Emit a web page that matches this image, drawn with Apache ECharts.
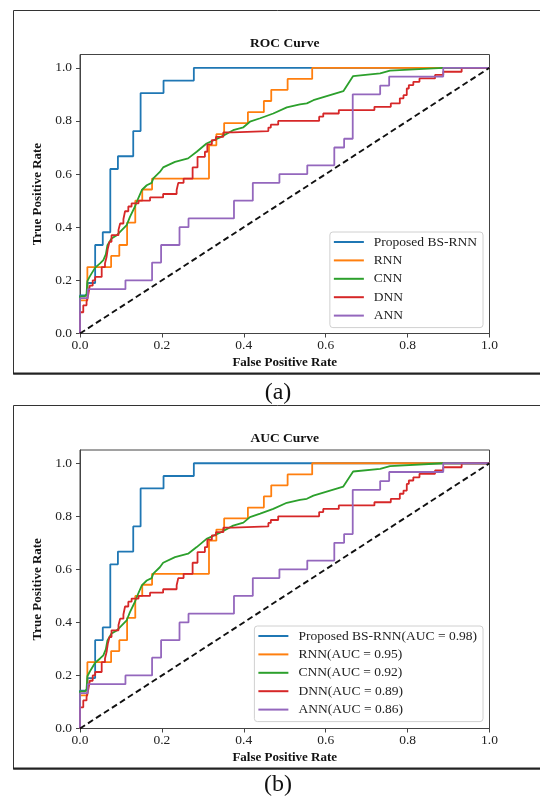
<!DOCTYPE html>
<html>
<head>
<meta charset="utf-8">
<script src="https://cdn.jsdelivr.net/npm/echarts@6/dist/echarts.min.js"></script>
<style>
html,body{margin:0;padding:0;background:#fff;}
#chart{width:540px;height:798px;}
</style>
</head>
<body>
<div id="chart"></div>
<script>
// ---- data ----
const modelNames = ['Proposed BS-RNN', 'RNN', 'CNN', 'DNN', 'ANN'];
const aucValues = [0.98, 0.95, 0.92, 0.89, 0.86];
const axisTicks = [0, 0.2, 0.4, 0.6, 0.8, 1.0];
const panelTitles = ['ROC Curve', 'AUC Curve'];
const panelCaptions = ['(a)', '(b)'];

const bsrnnRoc = [[0,0],[0,0.143],[0.0185,0.19],[0.037,0.333],[0.0556,0.381],[0.074,0.619],[0.0926,0.667],[0.13,0.762],[0.148,0.905],[0.204,0.952],[0.278,1],[1,1]];
const rnnRoc = [[0,0],[0,0.125],[0.018,0.25],[0.076,0.292],[0.096,0.333],[0.115,0.417],[0.135,0.5],[0.152,0.542],[0.176,0.583],[0.315,0.708],[0.333,0.75],[0.352,0.792],[0.41,0.833],[0.449,0.875],[0.467,0.917],[0.507,0.958],[0.567,1],[1,1]];
const cnnRoc = [[0,0],[0,0.14],[0.012,0.14],[0.016,0.148],[0.018,0.197],[0.024,0.215],[0.037,0.248],[0.049,0.264],[0.057,0.276],[0.063,0.298],[0.067,0.332],[0.077,0.358],[0.09,0.37],[0.102,0.389],[0.114,0.408],[0.122,0.439],[0.134,0.477],[0.142,0.508],[0.151,0.54],[0.163,0.558],[0.175,0.567],[0.179,0.584],[0.195,0.608],[0.203,0.625],[0.232,0.646],[0.264,0.659],[0.285,0.684],[0.309,0.715],[0.342,0.738],[0.374,0.765],[0.399,0.776],[0.415,0.797],[0.44,0.81],[0.472,0.828],[0.505,0.851],[0.537,0.862],[0.554,0.866],[0.57,0.878],[0.643,0.912],[0.667,0.969],[0.733,0.979],[0.757,0.989],[0.887,1],[1,1]];
const dnnRoc = [[0,0],[0,0.08],[0.008,0.106],[0.016,0.119],[0.02,0.145],[0.024,0.18],[0.031,0.2],[0.037,0.213],[0.053,0.25],[0.061,0.264],[0.065,0.289],[0.068,0.32],[0.072,0.345],[0.077,0.37],[0.094,0.39],[0.098,0.414],[0.106,0.43],[0.11,0.46],[0.118,0.478],[0.126,0.49],[0.143,0.5],[0.171,0.512],[0.203,0.525],[0.236,0.54],[0.24,0.567],[0.253,0.583],[0.275,0.625],[0.287,0.665],[0.305,0.684],[0.311,0.712],[0.322,0.728],[0.332,0.74],[0.35,0.757],[0.373,0.762],[0.46,0.775],[0.466,0.786],[0.484,0.8],[0.584,0.816],[0.594,0.828],[0.632,0.841],[0.719,0.853],[0.759,0.866],[0.781,0.885],[0.79,0.897],[0.798,0.922],[0.803,0.935],[0.814,0.947],[0.829,0.96],[0.867,0.973],[0.887,0.985],[0.932,1],[1,1]];
const annRoc = [[0,0],[0,0.133],[0.019,0.167],[0.111,0.2],[0.176,0.267],[0.198,0.333],[0.243,0.4],[0.265,0.433],[0.376,0.5],[0.422,0.567],[0.487,0.6],[0.555,0.633],[0.621,0.7],[0.645,0.733],[0.666,0.9],[0.733,0.933],[0.755,0.967],[0.887,1],[1,1]];
const chanceLine = [[0,0],[1,1]];

// ---- styling / layout ----
const curves = [bsrnnRoc, rnnRoc, cnnRoc, dnnRoc, annRoc];
const colors = ['#1f77b4', '#ff7f0e', '#2ca02c', '#d62728', '#9467bd'];
const stepped = [true, true, false, true, true];
const FONT = '"Liberation Serif","Times New Roman",serif';
const panels = [
  {frameTop: 10, frameBottom: 373.5, gridTop: 54.5, gridH: 279, titleY: 43.5, capY: 393, legendTop: 232},
  {frameTop: 405, frameBottom: 768.5, gridTop: 450, gridH: 278.5, titleY: 438.5, capY: 785, legendTop: 626}
];
const GRID_LEFT = 80, GRID_W = 409.5;

const grid = [], xAxis = [], yAxis = [], series = [], legend = [], graphic = [];
panels.forEach((p, pi) => {
  grid.push({left: GRID_LEFT, top: p.gridTop, width: GRID_W, height: p.gridH,
    show: true, borderColor: '#444', borderWidth: 1, backgroundColor: '#fff'});
  const axisCommon = {
    gridIndex: pi, type: 'value', min: 0,
    axisLine: {show: true, onZero: false, lineStyle: {color: '#444', width: 1}},
    axisTick: {show: true, inside: false, length: 4, lineStyle: {color: '#444'}, customValues: axisTicks},
    splitLine: {show: false},
    nameLocation: 'middle',
    nameTextStyle: {fontFamily: FONT, fontWeight: 'bold', fontSize: 13, color: '#111'}
  };
  xAxis.push(Object.assign({}, axisCommon, {
    max: 1, name: 'False Positive Rate', nameGap: 23,
    axisLabel: {customValues: axisTicks, margin: 5, fontFamily: FONT, fontSize: 13.5, color: '#222', formatter: v => v.toFixed(1)}
  }));
  yAxis.push(Object.assign({}, axisCommon, {
    max: 1.05, name: 'True Positive Rate', nameGap: 27,
    axisLabel: {customValues: axisTicks, margin: 8, fontFamily: FONT, fontSize: 13.5, color: '#222', formatter: v => v.toFixed(1)}
  }));
  const names = modelNames.map((n, i) => pi === 0 ? n : n + '(AUC = ' + aucValues[i].toFixed(2) + ')');
  curves.forEach((c, i) => {
    series.push({
      type: 'line', name: names[i], xAxisIndex: pi, yAxisIndex: pi, data: c,
      step: stepped[i] ? 'end' : false, symbol: 'none', smooth: false,
      lineStyle: {color: colors[i], width: 1.8}, itemStyle: {color: colors[i]},
      z: 2 + i, animation: false
    });
  });
  series.push({
    type: 'line', name: 'chance' + pi, xAxisIndex: pi, yAxisIndex: pi, data: chanceLine,
    symbol: 'none', lineStyle: {color: '#111', width: 1.9, type: [6, 3.5]}, z: 10, animation: false
  });
  legend.push({
    data: names.map(n => ({name: n, icon: 'rect'})), orient: 'vertical', right: 57, top: p.legendTop,
    itemWidth: 30, itemHeight: 2, itemGap: 4.4,
    padding: [3, 6, 5, 4], backgroundColor: '#fff', borderColor: '#d0d0d0', borderWidth: 1, borderRadius: 3,
    textStyle: {fontFamily: FONT, fontSize: 13.5, lineHeight: 14, color: '#222', padding: [0, 0, 0, 5]},
    selectedMode: false
  });
  // frame around panel
  graphic.push({type: 'rect', shape: {x: 13.5, y: p.frameTop + 0.5, width: 540, height: p.frameBottom - p.frameTop},
    style: {fill: 'none', stroke: '#333', lineWidth: 1}, z: 0});
  graphic.push({type: 'line', shape: {x1: 13, y1: p.frameBottom, x2: 541, y2: p.frameBottom},
    style: {stroke: '#222', lineWidth: 1.8}, z: 0});
  graphic.push({type: 'text', x: GRID_LEFT + GRID_W / 2, y: p.titleY,
    style: {text: panelTitles[pi], fontFamily: FONT, fontWeight: 'bold', fontSize: 13.5, fill: '#111', align: 'center', verticalAlign: 'middle'}});
  graphic.push({type: 'text', x: 278, y: p.capY,
    style: {text: panelCaptions[pi], fontFamily: FONT, fontSize: 24, fill: '#111', align: 'center', verticalAlign: 'middle'}});
});

const chart = echarts.init(document.getElementById('chart'), null, {renderer: 'canvas'});
chart.setOption({animation: false, backgroundColor: '#fff', grid, xAxis, yAxis, series, legend, graphic});
</script>
</body>
</html>
